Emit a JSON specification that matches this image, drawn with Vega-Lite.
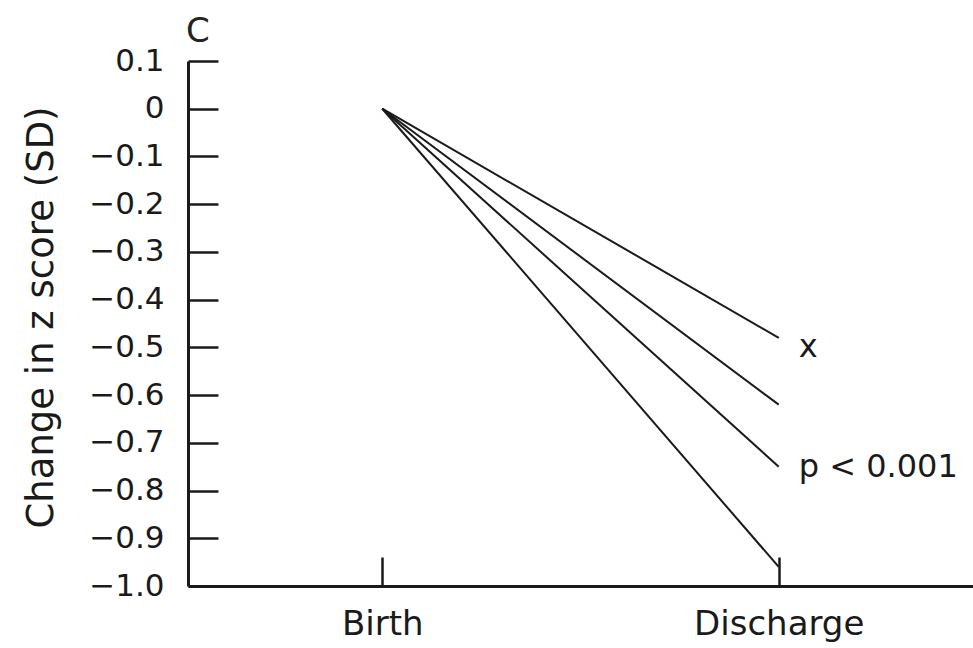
{
  "$schema": "https://vega.github.io/schema/vega-lite/v6.json",
  "width": 785,
  "height": 525,
  "autosize": {"type": "none"},
  "padding": {"left": 188, "top": 61, "right": 0, "bottom": 62},
  "background": "white",
  "title": {"text": "C", "anchor": "start", "frame": "group", "fontSize": 34, "font": "DejaVu Sans", "fontWeight": "normal", "color": "#222", "offset": -4, "dx": -2},
  "config": {
    "view": {"stroke": null},
    "font": "DejaVu Sans",
    "axis": {"grid": false, "domainColor": "#1a1a1a", "domainWidth": 2.5, "tickColor": "#1a1a1a", "tickWidth": 2.5, "labelColor": "#1a1a1a", "titleColor": "#1a1a1a", "labelFont": "DejaVu Sans", "titleFont": "DejaVu Sans", "titleFontWeight": "normal"}
  },
  "datasets": {
    "lines": [
      {"time": "Birth", "z": 0, "group": "a"},
      {"time": "Discharge", "z": -0.48, "group": "a"},
      {"time": "Birth", "z": 0, "group": "b"},
      {"time": "Discharge", "z": -0.62, "group": "b"},
      {"time": "Birth", "z": 0, "group": "c"},
      {"time": "Discharge", "z": -0.75, "group": "c"},
      {"time": "Birth", "z": 0, "group": "d"},
      {"time": "Discharge", "z": -0.96, "group": "d"}
    ],
    "labels": [
      {"time": "Discharge", "z": -0.5, "text": "x"},
      {"time": "Discharge", "z": -0.75, "text": "p < 0.001"}
    ]
  },
  "encoding": {
    "x": {"field": "time", "type": "ordinal", "scale": {"type": "point", "domain": ["Birth", "Discharge"], "padding": 0.49},
      "axis": {"title": null, "labelAngle": 0, "labelFontSize": 34, "tickSize": -29, "labelPadding": 50, "domainWidth": 3}},
    "y": {"field": "z", "type": "quantitative", "scale": {"domain": [-1, 0.1], "nice": false, "zero": false},
      "axis": {"title": "Change in z score (SD)", "titleFontSize": 37, "titlePadding": 28, "titleY": 256, "values": [0.1, 0, -0.1, -0.2, -0.3, -0.4, -0.5, -0.6, -0.7, -0.8, -0.9, -1.0],
        "labelExpr": "datum.value == 0 ? '0' : format(datum.value, '.1f')", "labelFontSize": 31, "tickSize": -30, "labelPadding": 54, "domainWidth": 3}}
  },
  "layer": [
    {"mark": {"type": "rule", "color": "#1a1a1a", "strokeWidth": 2.5}, "encoding": {"y": {"datum": 0}, "x": null}},
    {"data": {"name": "lines"}, "mark": {"type": "line", "color": "#1a1a1a", "strokeWidth": 2}, "encoding": {"detail": {"field": "group"}}},
    {"data": {"name": "labels"}, "mark": {"type": "text", "align": "left", "baseline": "middle", "dx": 20, "fontSize": 32, "color": "#1a1a1a"}, "encoding": {"text": {"field": "text"}}}
  ]
}
